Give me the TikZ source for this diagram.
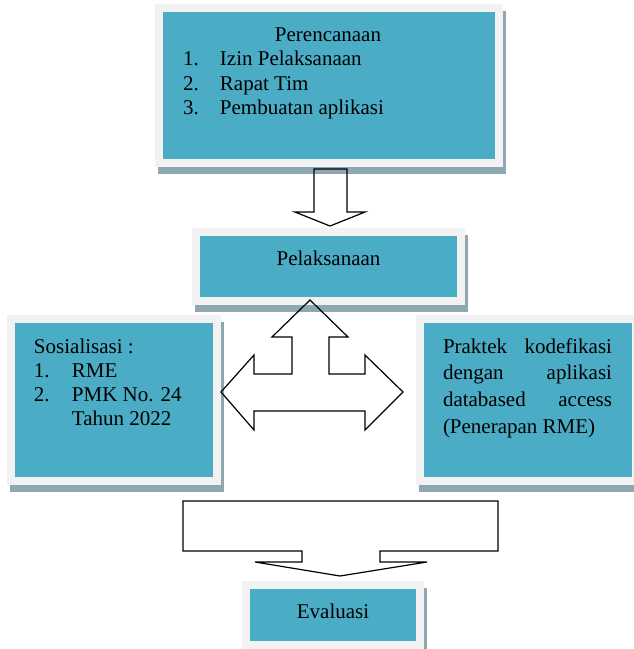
\documentclass[tikz,border=0pt]{standalone}
\usepackage{fontspec}
\setmainfont{Liberation Serif}
\definecolor{tealc}{RGB}{75,172,198}
\definecolor{frameg}{RGB}{242,242,242}
\definecolor{shadowc}{RGB}{142,168,178}
\tikzset{
  tbox/.style={rectangle, inner sep=0pt, outer sep=0pt, fill=tealc, draw=frameg, line width=8pt,
    preaction={fill=shadowc, draw=shadowc, line width=8pt, transform canvas={shift={(3pt,-6.5pt)}}}},
  txt/.style={inner sep=0pt, outer sep=0pt, font=\fontsize{21}{24.5}\selectfont},
  blockarrow/.style={draw=black, line width=1.2pt, line join=miter}
}
\begin{document}
\begin{tikzpicture}[x=1pt, y=-1pt]
\useasboundingbox (0,0) rectangle (634,649);
% boxes (teal area + 4 each side = path)
\node[tbox, minimum width=340pt, minimum height=155pt] (plan) at (329,85.5) {};
\node[tbox, minimum width=265pt, minimum height=69pt] (pel) at (328.5,266.5) {};
\node[tbox, minimum width=206pt, minimum height=162pt] (sos) at (114,400) {};
\node[tbox, minimum width=216pt, minimum height=162pt] (prak) at (528,400) {};
\node[tbox, minimum width=174pt, minimum height=60pt] (eval) at (333,615) {};
% texts
\node[txt, anchor=base] (tplan) at (328,41) {Perencanaan};
\node[txt, anchor=base west] (tplanlist) at (183,65.5) {\begin{tabular}[t]{@{}l@{}}\makebox[37pt][l]{1.}Izin Pelaksanaan\\ \makebox[37pt][l]{2.}Rapat Tim\\ \makebox[37pt][l]{3.}Pembuatan aplikasi\end{tabular}};
\node[txt, anchor=base] (tpel) at (328.5,265) {Pelaksanaan};
\node[txt, anchor=base west, font=\fontsize{21}{24}\selectfont] (tsos) at (34,353) {\begin{tabular}[t]{@{}l@{}}Sosialisasi :\\ \makebox[38pt][l]{1.}RME\\ \makebox[38pt][l]{2.}PMK No. 24\\ \hspace*{38pt}Tahun 2022\end{tabular}};
\node[txt, anchor=base west, font=\fontsize{21}{26.7}\selectfont] (tprak) at (443,353) {\begin{tabular}[t]{@{}l@{}}\makebox[169pt][s]{Praktek kodefikasi}\\ \makebox[169pt][s]{dengan aplikasi}\\ \makebox[169pt][s]{databased access}\\ (Penerapan RME)\end{tabular}};
\node[txt, anchor=base] (teval) at (333,618) {Evaluasi};
% block arrows
\draw[blockarrow] (314,169) -- (347,169) -- (347,212) -- (365,212) -- (330,226) -- (295,212) -- (314,212) -- cycle;
\draw[blockarrow] (310,300) -- (348,337) -- (329,337) -- (329,374) -- (365,374) -- (365,355) -- (403,392)
  -- (365,430) -- (365,411) -- (254,411) -- (254,430) -- (221,392) -- (254,355) -- (254,374)
  -- (292,374) -- (292,337) -- (272,337) -- cycle;
\draw[blockarrow] (183,501) -- (498,501) -- (498,551) -- (380,551) -- (380,562) -- (427,562) -- (340,576)
  -- (255,562) -- (302,562) -- (302,551) -- (183,551) -- cycle;
\end{tikzpicture}
\end{document}
